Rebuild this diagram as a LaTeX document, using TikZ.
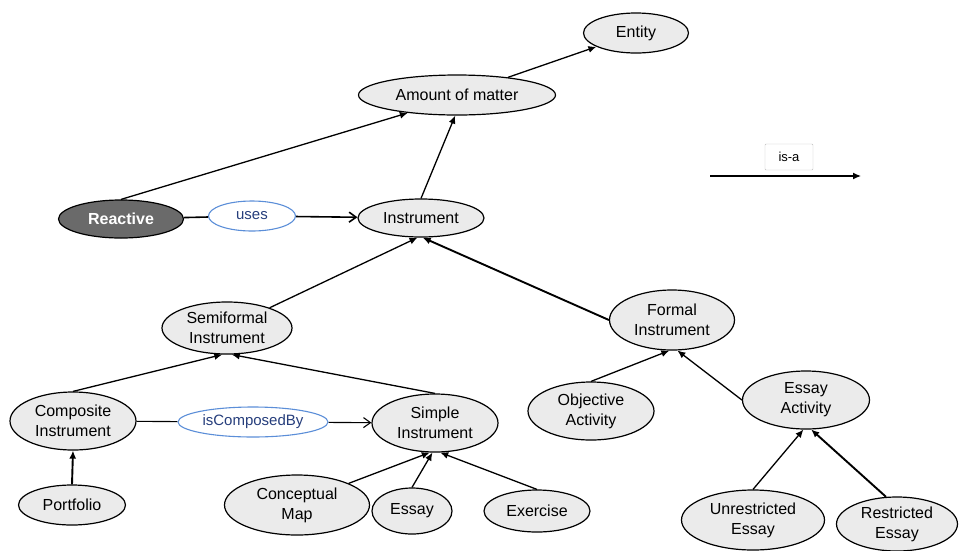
\documentclass[tikz,border=0pt]{standalone}
\usepackage{fontspec}
\setmainfont{Liberation Sans}
\usepackage{xcolor}
\definecolor{Pale}{HTML}{EBEBEB}
\definecolor{Dark}{HTML}{6A6A6A}
\definecolor{RelBlue}{HTML}{5B8ED8}
\definecolor{RelText}{HTML}{263E7C}
\definecolor{Box}{HTML}{BDBDBD}
\usepackage{tikz}
\usetikzlibrary{arrows.meta,shapes.geometric}
\tikzset{
  concept/.style={ellipse,draw=black,line width=1.2pt,fill=Pale,inner sep=0pt,
    align=center,font=\fontsize{16}{20}\selectfont},
  darkconcept/.style={concept,fill=Dark,text=white,font=\bfseries\fontsize{16}{20}\selectfont},
  relation/.style={ellipse,draw=RelBlue,line width=1.1pt,fill=white,inner sep=0pt,
    text=RelText,minimum height=30pt,font=\fontsize{15}{18}\selectfont},
  isa/.style={-{Latex[length=8pt,width=7pt]},line width=1.3pt},
  isathick/.style={isa,line width=1.9pt},
  rel/.style={line width=1.6pt},
  relarrow/.style={rel,-{Straight Barb[length=7pt,width=10pt]}}
}

\begin{document}
\begin{tikzpicture}[x=1pt,y=-1pt]
  \useasboundingbox (0,0) rectangle (959,550);
  \node[concept,minimum width=105pt,minimum height=40pt] (entity) at (636,33) {Entity};
  \node[concept,minimum width=197pt,minimum height=40pt] (amount) at (457,95) {Amount of matter};
  \node[darkconcept,minimum width=125pt,minimum height=38pt] (reactive) at (121,219) {Reactive};
  \node[relation,minimum width=87pt] (uses) at (252,216) {uses};
  \node[concept,minimum width=126pt,minimum height=38pt] (instr) at (421,218) {Instrument};
  \node[concept,minimum width=130pt,minimum height=52pt] (semi) at (227,328) {Semiformal\\Instrument};
  \node[concept,minimum width=125pt,minimum height=60pt] (formal) at (672,320) {Formal\\Instrument};
  \node[concept,minimum width=126pt,minimum height=58pt] (comp) at (73,421) {Composite\\Instrument};
  \node[relation,minimum width=150pt] (composed) at (253,422) {isComposedBy};
  \node[concept,minimum width=126pt,minimum height=58pt] (simple) at (435,423) {Simple\\Instrument};
  \node[concept,minimum width=107pt,minimum height=40pt] (port) at (72,505) {Portfolio};
  \node[concept,minimum width=145pt,minimum height=60pt] (cmap) at (297,505) {Conceptual\\Map};
  \node[concept,minimum width=80pt,minimum height=46pt] (essay) at (412,511) {Essay};
  \node[concept,minimum width=106pt,minimum height=42pt] (exercise) at (537,511) {Exercise};
  \node[concept,minimum width=126pt,minimum height=58pt] (objective) at (591,411) {Objective\\Activity};
  \node[concept,minimum width=127pt,minimum height=58pt] (essayact) at (806,400) {Essay\\Activity};
  \node[concept,minimum width=143pt,minimum height=60pt] (unres) at (753,520) {Unrestricted\\Essay};
  \node[concept,minimum width=121pt,minimum height=54pt] (restr) at (897,524) {Restricted\\Essay};
  \node[draw=Box,rounded corners=1pt,minimum width=48pt,minimum height=26pt,
    font=\fontsize{13}{15}\selectfont] (legend) at (789,157) {is-a};
  \coordinate (legstart) at (710,176);
  \coordinate (legend end) at (861,176);
  \draw[isa] (legstart) -- (legend end);
  \draw[isa] (amount) -- (entity);
  \draw[isa] (reactive.north) -- (amount.-160);
  \draw[isa] (instr.north) -- (amount.-95);
  \draw[rel] (reactive) -- (uses);
  \draw[relarrow] (uses) -- (instr);
  \draw[isa] (semi) -- (instr.-100);
  \draw[isathick] (formal.west) -- (instr.-85);
  \draw[isa] (comp.north) -- (semi.-100);
  \draw[isa] (simple.north) -- (semi.-80);
  \draw[line width=1.1pt] (comp) -- (composed);
  \draw[line width=1.1pt,-{Straight Barb[length=7pt,width=10pt]}] (composed) -- (simple);
  \draw[isathick] (port.north) -- (comp.south);
  \draw[isa] (cmap.north east) -- (simple.-100);
  \draw[isa] (essay.north) -- (simple.-95);
  \draw[isa] (exercise.north) -- (simple.-80);
  \draw[isa] (objective.north) -- (formal.-95);
  \draw[isa] (essayact.west) -- (formal.-80);
  \draw[isa] (unres.north) -- (essayact.-95);
  \draw[isathick] (restr.112) -- (essayact.-80);
\end{tikzpicture}
\end{document}
